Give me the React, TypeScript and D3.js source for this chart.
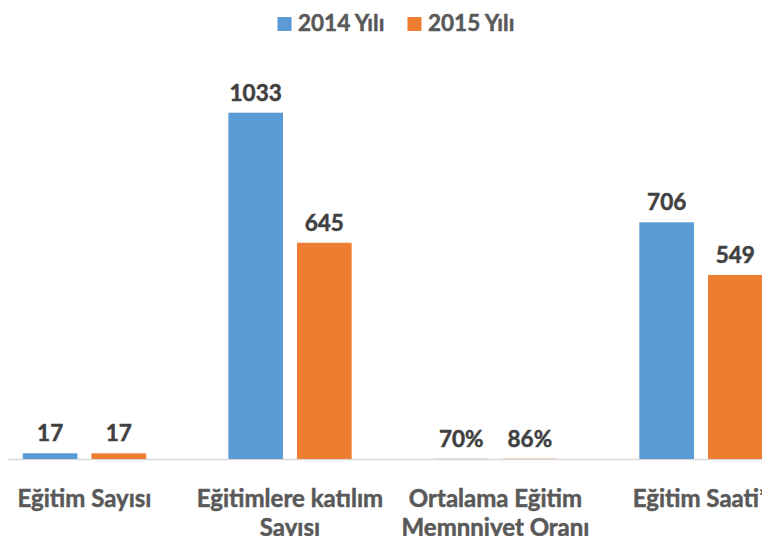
import React, { useEffect, useRef } from "react";
import * as d3 from "d3";

const categories = [
  ["Eğitim Sayısı"],
  ["Eğitimlere katılım", "Sayısı"],
  ["Ortalama Eğitim", "Memnniyet Oranı"],
  ["Eğitim Saati*"],
];
const seriesNames = ["2014 Yılı", "2015 Yılı"];
const values2014 = [17, 1033, 0.7, 706];
const values2015 = [17, 645, 0.86, 549];
const valueLabels2014 = ["17", "1033", "70%", "706"];
const valueLabels2015 = ["17", "645", "86%", "549"];
const colors = ["#5B9BD5", "#ED7D31"];

export default function App() {
  const svgRef = useRef<SVGSVGElement>(null);

  useEffect(() => {
    const width = 770;
    const height = 544;
    const font = "Lato, 'Open Sans', sans-serif";
    const svg = d3
      .select(svgRef.current)
      .attr("width", width)
      .attr("height", height)
      .style("display", "block")
      .style("background-color", "white");
    svg.selectAll("*").remove();

    const keys = categories.map((c, i) => String(i));
    const x0 = d3
      .scaleBand()
      .domain(keys)
      .range([-59.35, 844.85])
      .paddingInner(0.4)
      .paddingOuter(0.4);
    const x1 = d3
      .scaleBand()
      .domain(["0", "1"])
      .range([0, x0.bandwidth()])
      .paddingInner(0.204);
    const y = d3.scaleLinear().domain([0, 1200]).range([459, 56.7]);

    const rows = keys.map((k, i) => ({
      key: k,
      bars: [
        { s: "0", v: values2014[i], label: valueLabels2014[i] },
        { s: "1", v: values2015[i], label: valueLabels2015[i] },
      ],
    }));

    // axis line
    svg
      .append("line")
      .attr("x1", 0)
      .attr("x2", width)
      .attr("y1", y(0) + 0.5)
      .attr("y2", y(0) + 0.5)
      .attr("stroke", "#D9D9D9")
      .attr("stroke-width", 1.5);

    const g = svg
      .append("g")
      .selectAll("g")
      .data(rows)
      .join("g")
      .attr("transform", (d) => `translate(${x0(d.key)},0)`);

    g.selectAll("rect")
      .data((d) => d.bars)
      .join("rect")
      .attr("x", (d) => x1(d.s)!)
      .attr("y", (d) => y(d.v))
      .attr("width", x1.bandwidth())
      .attr("height", (d) => y(0) - y(d.v))
      .attr("fill", (d) => colors[+d.s]);

    g.selectAll("text")
      .data((d) => d.bars)
      .join("text")
      .text((d) => d.label)
      .attr("x", (d) => x1(d.s)! + x1.bandwidth() / 2)
      .attr("y", (d) => y(d.v) - 12)
      .attr("text-anchor", "middle")
      .attr("fill", "#404040")
      .attr("stroke", "#404040")
      .attr("stroke-width", 0.5)
      .style("font-family", font)
      .style("font-weight", 700)
      .style("font-size", "22.5px");

    // category labels
    svg
      .append("g")
      .selectAll("text")
      .data(rows)
      .join("text")
      .attr("x", (d) => x0(d.key)! + x0.bandwidth() / 2)
      .attr("y", 507)
      .attr("text-anchor", "middle")
      .attr("fill", "#595959")
      .attr("stroke", "#595959")
      .attr("stroke-width", 0.5)
      .style("font-family", font)
      .style("font-weight", 700)
      .style("font-size", "24px")
      .selectAll("tspan")
      .data((d) => categories[+d.key])
      .join("tspan")
      .attr("x", function () {
        return (this as any).parentNode.getAttribute("x");
      })
      .attr("dy", (d, i) => (i === 0 ? 0 : 29))
      .text((d) => d);

    // legend
    const legendX = [277, 407];
    const legend = svg
      .append("g")
      .selectAll("g")
      .data(seriesNames)
      .join("g")
      .attr("transform", (d, i) => `translate(${legendX[i]},0)`);
    legend
      .append("rect")
      .attr("x", 0.5)
      .attr("y", 17)
      .attr("width", 14)
      .attr("height", 14)
      .attr("fill", (d, i) => colors[i]);
    legend
      .append("text")
      .attr("x", 21)
      .attr("y", 31)
      .attr("fill", "#595959")
      .attr("stroke", "#595959")
      .attr("stroke-width", 0.5)
      .style("font-family", font)
      .style("font-weight", 700)
      .style("font-size", "22.5px")
      .text((d) => d);
  }, []);

  return (
    <div style={{ margin: -8 }}>
      <svg ref={svgRef}></svg>
    </div>
  );
}
